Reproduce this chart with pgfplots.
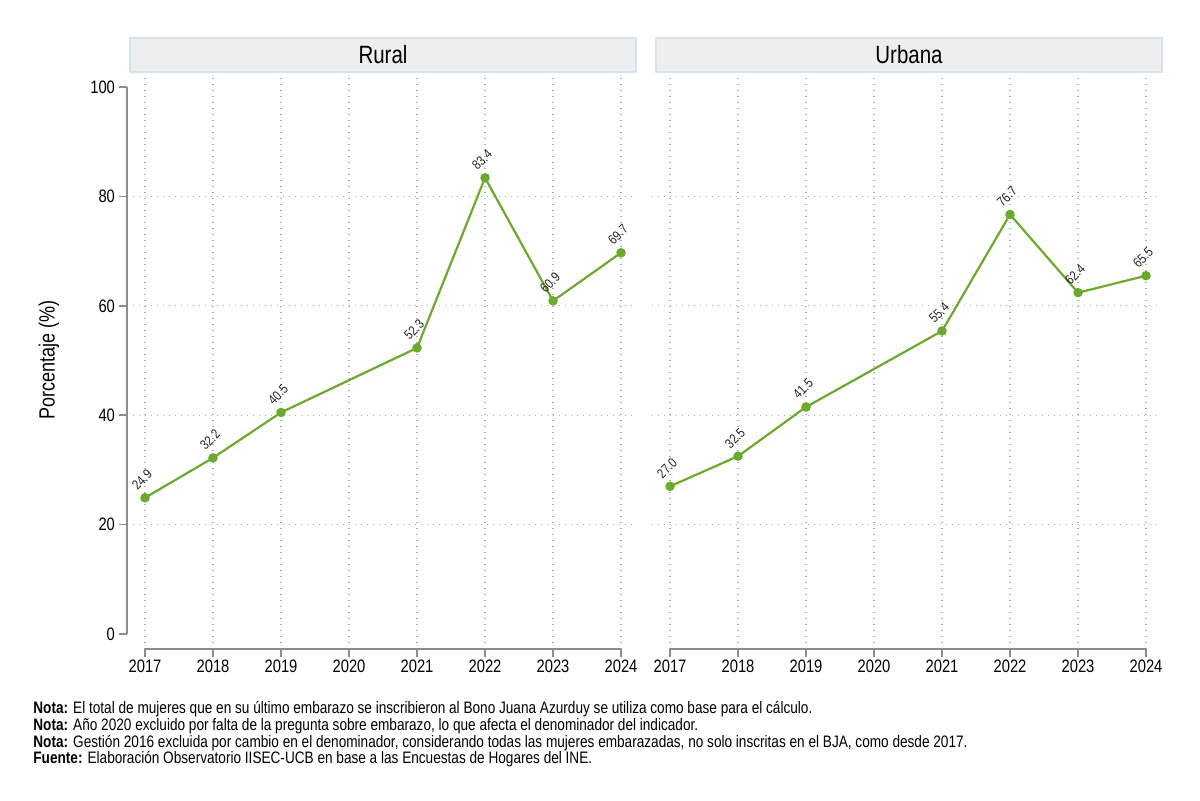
\documentclass[border=0pt]{standalone}
\usepackage{fontspec}
\setmainfont{Liberation Sans}[FakeStretch=0.82]
\usepackage{pgfplots}
\pgfplotsset{compat=1.18}
\definecolor{lgreen}{RGB}{107,170,46}
\definecolor{axgray}{RGB}{140,140,140}
\definecolor{griddot}{RGB}{175,175,175}
\definecolor{hdrfill}{RGB}{238,238,238}
\definecolor{hdrborder}{RGB}{214,228,235}

\pgfplotstableread{
x y
2017 24.9
2018 32.2
2019 40.5
2021 52.3
2022 83.4
2023 60.9
2024 69.7
}\rural
\pgfplotstableread{
x y
2017 27.0
2018 32.5
2019 41.5
2021 55.4
2022 76.7
2023 62.4
2024 65.5
}\urbana

\pgfplotsset{panel/.style={
  scale only axis, width=254.5pt, height=285.5pt,
  xmin=2016.735, xmax=2024.22, ymin=-2.74, ymax=101.65,
  axis lines=left, axis line style={draw=none, -},
  xtick={2017,2018,...,2024},
  xticklabels={2017,2018,2019,2020,2021,2022,2023,2024},
  tick align=outside, major tick length=4pt,
  tick style={axgray, line width=0.75pt},
  xmajorgrids,
  grid style={griddot, line width=0.6pt, dash pattern=on 0.6pt off 2.4pt},
  extra y ticks={20,40,60,80}, extra y tick labels={},
  extra y tick style={grid=major, tick style={draw=none}},
  ticklabel style={font=\fontsize{9}{10}\selectfont},
  xticklabel style={yshift=2pt},
  yticklabel style={xshift=1.5pt},
  /pgf/number format/assume math mode=true,
  clip=false,
}}
\pgfplotsset{series/.style={
  lgreen, line width=1.1pt, mark=*, mark size=1.8pt,
  mark options={fill=lgreen, draw=lgreen, solid},
  nodes near coords={\pgfmathprintnumber[fixed,zerofill,precision=1]{\pgfplotspointmeta}},
  nodes near coords style={text=black!85, font=\fontsize{6.8}{8}\selectfont,
     anchor=center, xshift=-1.5pt, yshift=9pt, rotate=45, inner sep=0pt},
}}

\begin{document}
\begin{tikzpicture}
% Rural
\begin{axis}[panel, at={(63.5pt,76pt)}, anchor=south west,
  ytick={0,20,40,60,80,100}]
  \addplot[series] table[x=x,y=y] {\rural};
  \draw[axgray, line width=0.75pt] (axis cs:2016.735,0) -- (axis cs:2016.735,100);
  \draw[axgray, line width=0.75pt] (axis cs:2017,-2.74) -- (axis cs:2024,-2.74);
\end{axis}
% Urbana
\begin{axis}[panel, at={(326pt,76pt)}, anchor=south west,
  ytick=\empty]
  \addplot[series] table[x=x,y=y] {\urbana};
  \draw[axgray, line width=0.75pt] (axis cs:2017,-2.74) -- (axis cs:2024,-2.74);
\end{axis}
% headers
\draw[hdrborder, fill=hdrfill, line width=0.7pt] (65pt,364.5pt) rectangle (318pt,381.5pt);
\node[font=\fontsize{12.5}{14}\selectfont] at (191.5pt,373pt) {Rural};
\draw[hdrborder, fill=hdrfill, line width=0.7pt] (328pt,364.5pt) rectangle (581pt,381.5pt);
\node[font=\fontsize{12.5}{14}\selectfont] at (454.5pt,373pt) {Urbana};
% y label
\node[rotate=90, font=\fontsize{11}{13}\selectfont] at (24.5pt,220.5pt) {Porcentaje (\%)};
% notes
\node[anchor=north west, align=left, inner sep=0pt, font=\fontsize{8.3}{8.35}\selectfont] at (16.5pt,50pt)
{\textbf{Nota:} El total de mujeres que en su último embarazo se inscribieron al Bono Juana Azurduy se utiliza como base para el cálculo.\\
\textbf{Nota:} Año 2020 excluido por falta de la pregunta sobre embarazo, lo que afecta el denominador del indicador.\\
\textbf{Nota:} Gestión 2016 excluida por cambio en el denominador, considerando todas las mujeres embarazadas, no solo inscritas en el BJA, como desde 2017.\\
\textbf{Fuente:} Elaboración Observatorio IISEC-UCB en base a las Encuestas de Hogares del INE.};
\pgfresetboundingbox
\useasboundingbox (0,0) rectangle (600pt,400.5pt);
\end{tikzpicture}
\end{document}
